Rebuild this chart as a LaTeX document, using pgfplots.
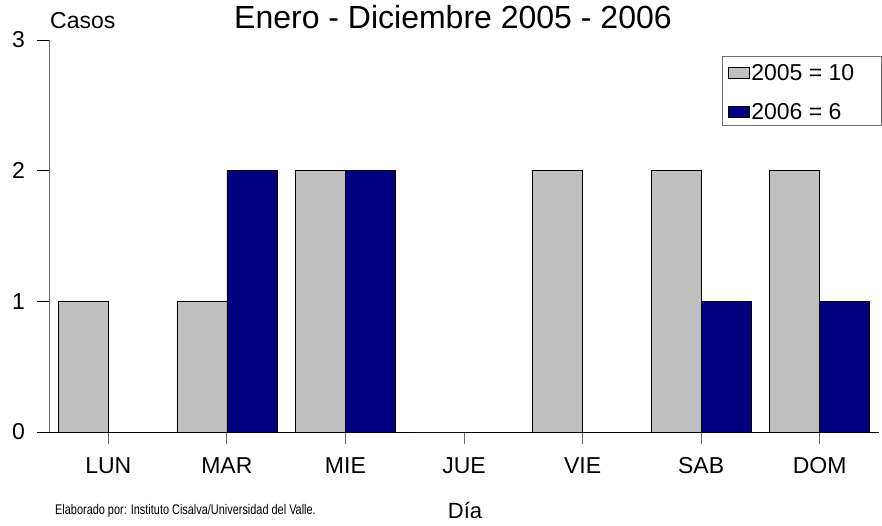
\documentclass[border=0pt]{standalone}
\usepackage{pgfplots}
\pgfplotsset{compat=1.18}
\usepackage{fontspec}
\setmainfont{Liberation Sans}
\definecolor{barg}{RGB}{192,192,192}
\definecolor{barb}{RGB}{0,0,128}
\definecolor{axgray}{RGB}{110,110,110}
\begin{document}
\begin{tikzpicture}[x=1pt,y=1pt]
\useasboundingbox (0,0) rectangle (882,525);
\begin{axis}[
  at={(49pt,93pt)}, anchor=south west,
  scale only axis, width=830pt, height=392pt,
  xmin=-0.5, xmax=6.5, ymin=0, ymax=3,
  ybar=0pt, bar width=50pt,
  axis lines*=left,
  x axis line style={black, line width=0.9pt, shorten <=-12pt},
  y axis line style={axgray, line width=1pt},
  ytick={0,1,2,3},
  xtick={0,1,2,3,4,5,6},
  xticklabels={LUN,MAR,MIE,JUE,VIE,SAB,DOM},
  tick align=outside, major tick length=12pt,
  ytick style={black, line width=0.9pt},
  xtick style={axgray, line width=0.9pt},
  /pgf/number format/assume math mode=true,
  ticklabel style={font=\fontsize{23}{23}\selectfont, inner sep=0pt},
  yticklabel style={anchor=east, xshift=-12pt},
  xticklabel style={anchor=north, yshift=-13pt},
  title={\fontsize{32}{32}\selectfont Enero - Diciembre 2005 - 2006},
  title style={at={(axis description cs:0.4867,1.0128)}, anchor=base, inner sep=0pt},
  xlabel={\fontsize{22}{22}\selectfont Día},
  xlabel style={at={(axis description cs:0.5012,-0.2194)}, anchor=base, inner sep=0pt},
  ylabel={\fontsize{23}{23}\selectfont Casos},
  ylabel style={at={(axis description cs:0.0012,1.0306)}, anchor=base west, inner sep=0pt, rotate=-90},
  legend style={at={(axis description cs:0.811,0.955)}, anchor=north west,
    draw=none, fill=none, inner xsep=6pt, inner ysep=5pt,
    font=\fontsize{23}{23}\selectfont, row sep=19.5pt,
    nodes={inner sep=1.5pt, text height=16.5pt, text depth=0pt, line width=0.6pt}},
  legend cell align=left,
  legend image code/.code={\draw[#1, draw=black, line width=0.5pt] (0pt,-5.5pt) rectangle (21pt,5.5pt);},
  clip=false,
]
\addplot[fill=barg, draw=black, line width=0.6pt] coordinates {(0,1) (1,1) (2,2) (3,0) (4,2) (5,2) (6,2)};
\addlegendentry{2005 = 10}
\addplot[fill=barb, draw=black, line width=0.6pt] coordinates {(0,0) (1,2) (2,2) (3,0) (4,0) (5,1) (6,1)};
\addlegendentry{2006 = 6}
\end{axis}
\draw[axgray, line width=0.8pt] (722,400) rectangle (881,469);
\node[anchor=base west, inner sep=0pt] at (55,11) {\scalebox{0.78}[1]{\fontsize{14}{14}\selectfont Elaborado por: Instituto Cisalva/Universidad del Valle.}};
\end{tikzpicture}
\end{document}
